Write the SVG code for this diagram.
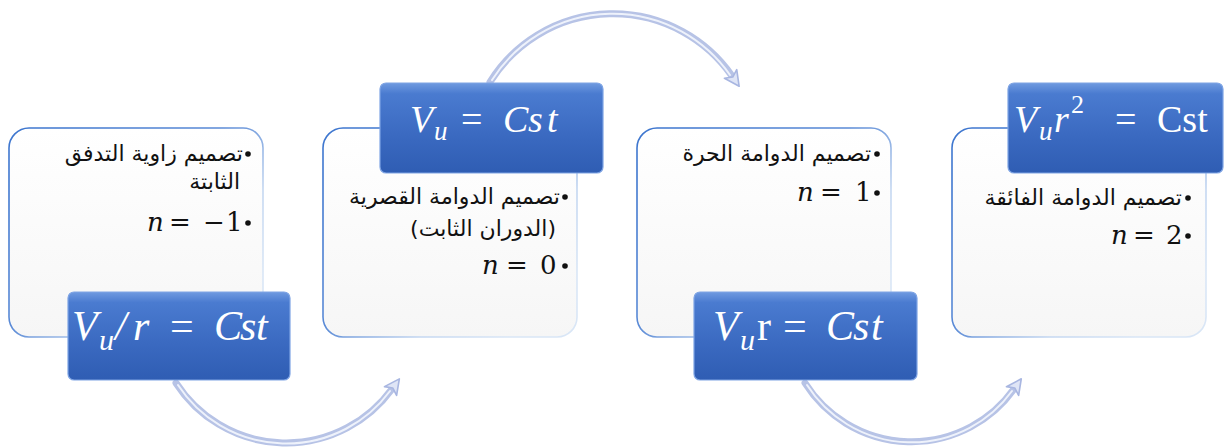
<svg xmlns="http://www.w3.org/2000/svg" width="1227" height="448" viewBox="0 0 1227 448">
<defs>
<linearGradient id="boxFill" x1="0" y1="0" x2="0" y2="1">
<stop offset="0" stop-color="#ffffff"/><stop offset="1" stop-color="#f6f6f6"/>
</linearGradient>
<linearGradient id="boxStroke" x1="0.2" y1="0" x2="1" y2="0.7">
<stop offset="0" stop-color="#3f77cf"/><stop offset="0.45" stop-color="#5a8ad6"/><stop offset="0.75" stop-color="#c4d7f1"/><stop offset="1" stop-color="#d9e6f6"/>
</linearGradient>
<linearGradient id="lblFill" x1="0" y1="0" x2="0" y2="1">
<stop offset="0" stop-color="#6f9ae0"/><stop offset="0.12" stop-color="#4a7bd0"/><stop offset="0.6" stop-color="#3a69c0"/><stop offset="1" stop-color="#2f5db3"/>
</linearGradient>
<marker id="ah" markerUnits="userSpaceOnUse" markerWidth="20" markerHeight="20" refX="0" refY="0" viewBox="-4 -8 16 16" orient="auto">
<path d="M-2,-6 L10,0 L-2,6 L1,0 Z" fill="#dfe5f6" stroke="#a8b6e1" stroke-width="1.3" stroke-linejoin="round"/>
</marker>
<style>
.box{fill:url(#boxFill);stroke:url(#boxStroke);stroke-width:1.6}
.lbl{fill:url(#lblFill);stroke:#7ea4e4;stroke-width:1.2}
.lt{fill:#ffffff;font-family:"Liberation Serif","DejaVu Serif",serif;font-style:italic}
.up{font-style:normal}
.ar{font-family:"DejaVu Sans","Liberation Sans",sans-serif;font-size:22px;fill:#111;text-anchor:end}
.mt{font-family:"DejaVu Serif","Liberation Serif",serif;font-size:26px;fill:#111}
.arc{fill:none;stroke:#b7c3e6;stroke-width:7;stroke-linecap:round}
.hl{fill:none;stroke:#eef2fb;stroke-width:2;stroke-linecap:round}
</style>
</defs>

<g id="box1">
<rect class="box" x="9" y="128" width="254" height="209" rx="20"/>
<circle cx="248" cy="154" r="2.8" fill="#111"/>
<text class="ar" x="243" y="161">تصميم زاوية التدفق</text>
<text class="ar" x="240" y="189">الثابتة</text>
<text class="mt" y="231"><tspan x="147" font-style="italic">n</tspan><tspan x="169">=</tspan><tspan x="203">−</tspan><tspan x="226">1</tspan></text>
<circle cx="248" cy="223" r="2.8" fill="#111"/>
</g>

<g id="box2">
<rect class="box" x="323" y="128" width="254" height="209" rx="20"/>
<circle cx="565" cy="197" r="2.8" fill="#111"/>
<text class="ar" x="560" y="204">تصميم الدوامة القصرية</text>
<text class="ar" x="556" y="236">(الدوران الثابت)</text>
<text class="mt" y="274"><tspan x="482" font-style="italic">n</tspan><tspan x="506">=</tspan><tspan x="540">0</tspan></text>
<circle cx="565" cy="266" r="2.8" fill="#111"/>
</g>

<g id="box3">
<rect class="box" x="637" y="128" width="254" height="209" rx="20"/>
<circle cx="877" cy="154" r="2.8" fill="#111"/>
<text class="ar" x="871" y="161">تصميم الدوامة الحرة</text>
<text class="mt" y="201"><tspan x="797" font-style="italic">n</tspan><tspan x="820">=</tspan><tspan x="855">1</tspan></text>
<circle cx="877" cy="193" r="2.8" fill="#111"/>
</g>

<g id="box4">
<rect class="box" x="952" y="128" width="254" height="209" rx="20"/>
<circle cx="1188" cy="198" r="2.8" fill="#111"/>
<text class="ar" x="1182" y="205">تصميم الدوامة الفائقة</text>
<text class="mt" y="244"><tspan x="1111" font-style="italic">n</tspan><tspan x="1133">=</tspan><tspan x="1166">2</tspan></text>
<circle cx="1188" cy="236" r="2.8" fill="#111"/>
</g>

<g id="connectors">
<path class="arc" d="M176,383 A131,131 0 0 0 392,389" marker-end="url(#ah)"/>
<path class="hl" d="M178,385 A129,129 0 0 0 390,391"/>
<path class="arc" d="M490,82 A145,145 0 0 1 732,76" marker-end="url(#ah)"/>
<path class="hl" d="M492,80 A143,143 0 0 1 730,75"/>
<path class="arc" d="M805,383 A126,126 0 0 0 1014,389" marker-end="url(#ah)"/>
<path class="hl" d="M807,385 A124,124 0 0 0 1012,391"/>
</g>

<g id="label1">
<rect class="lbl" x="68" y="292" width="222" height="88" rx="6"/>
<text class="lt" font-size="42" y="340"><tspan x="72">V</tspan><tspan x="99" y="350" font-size="30">u</tspan><tspan x="115" y="340">/</tspan><tspan x="133">r</tspan><tspan x="170" class="up">=</tspan><tspan x="214">C</tspan><tspan x="240">s</tspan><tspan x="256">t</tspan></text>
</g>

<g id="label2">
<rect class="lbl" x="380" y="83" width="223" height="90" rx="6"/>
<text class="lt" font-size="38" y="132"><tspan x="410">V</tspan><tspan x="434" y="140" font-size="27">u</tspan><tspan x="461" y="132" class="up">=</tspan><tspan x="503">C</tspan><tspan x="528">s</tspan><tspan x="547">t</tspan></text>
</g>

<g id="label3">
<rect class="lbl" x="694" y="292" width="223" height="88" rx="6"/>
<text class="lt" font-size="42" y="340"><tspan x="713">V</tspan><tspan x="740" y="350" font-size="30">u</tspan><tspan x="757" y="340" class="up">r</tspan><tspan x="783" class="up">=</tspan><tspan x="826">C</tspan><tspan x="853">s</tspan><tspan x="871">t</tspan></text>
</g>

<g id="label4">
<rect class="lbl" x="1008" y="83" width="215" height="90" rx="6"/>
<text class="lt" font-size="38" y="132"><tspan x="1014">V</tspan><tspan x="1039" y="140" font-size="27">u</tspan><tspan x="1054" y="132">r</tspan><tspan x="1071" y="113" font-size="26" class="up">2</tspan><tspan x="1115" y="132" class="up">=</tspan><tspan x="1157" class="up">Cst</tspan></text>
</g>
</svg>
